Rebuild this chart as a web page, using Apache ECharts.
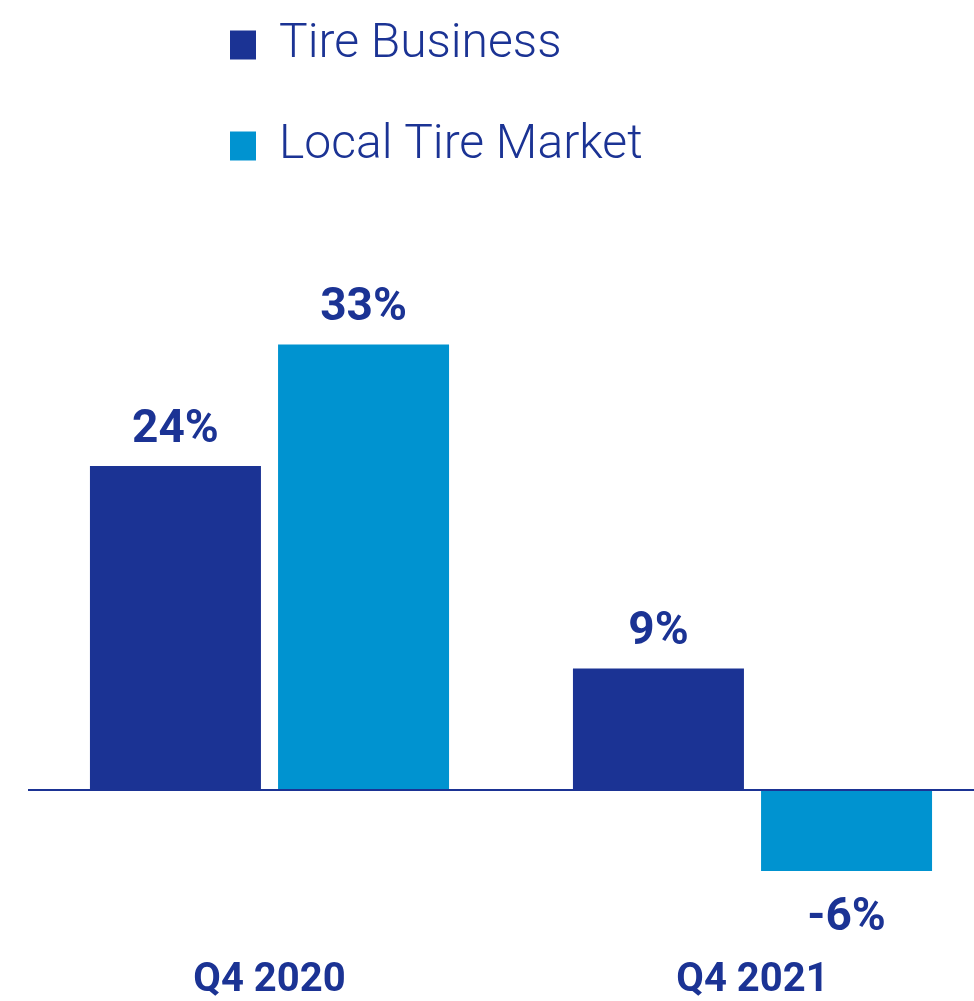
<!DOCTYPE html>
<html>
<head>
<meta charset="utf-8">
<script src="https://cdn.jsdelivr.net/npm/echarts@6/dist/echarts.min.js"></script>
<style>
  html, body { margin: 0; padding: 0; background: #fff; }
  #chart { width: 974px; height: 1001px; }
</style>
</head>
<body>
<div id="chart"></div>
<script>
// Year-over-year change, fourth quarter
const quarters = ['Q4 2020', 'Q4 2021'];
const seriesNames = ['Tire Business', 'Local Tire Market'];
const tireBusiness = [24, 9];
const localTireMarket = [33, -6];

const DARK = '#1b3394';
const LIGHT = '#0093d0';
const FONT = 'Roboto, "Noto Sans", sans-serif';

const valueLabel = {
  show: true,
  position: 'top',
  distance: 13,
  color: DARK,
  fontFamily: FONT,
  fontWeight: 'bold',
  fontSize: 46,
  formatter: p => p.value + '%'
};

function barData(values) {
  return values.map(v => v < 0
    ? { value: v, label: { position: 'bottom', distance: 24 } }
    : v);
}

const chart = echarts.init(document.getElementById('chart'), null, { renderer: 'canvas' });
chart.setOption({
  animation: false,
  backgroundColor: '#ffffff',
  legend: {
    orient: 'vertical',
    left: 225,
    top: 16,
    itemWidth: 26,
    itemHeight: 29,
    itemGap: 53,
    icon: 'rect',
    data: seriesNames,
    textStyle: {
      color: DARK,
      fontFamily: FONT,
      fontWeight: 300,
      fontSize: 48,
      padding: [0, 0, 0, 18]
    }
  },
  grid: { left: 28, right: -20, top: 250, bottom: 49, outerBoundsMode: 'none', containLabel: false },
  xAxis: {
    type: 'category',
    data: quarters,
    axisLine: { show: false, onZero: false },
    axisTick: { show: false },
    axisLabel: {
      margin: 9,
      color: DARK,
      fontFamily: FONT,
      fontWeight: 'bold',
      fontSize: 40
    }
  },
  yAxis: {
    type: 'value',
    min: -12,
    max: 40,
    show: false,
    splitLine: { show: false }
  },
  series: [
    {
      name: seriesNames[0],
      type: 'bar',
      data: barData(tireBusiness),
      barWidth: 171,
      barGap: '10%',
      itemStyle: { color: DARK },
      label: valueLabel,
      // baseline at zero across the whole plot width
      markLine: {
        silent: true,
        symbol: 'none',
        label: { show: false },
        lineStyle: { color: DARK, width: 2, type: 'solid' },
        data: [{ yAxis: 0 }]
      }
    },
    {
      name: seriesNames[1],
      type: 'bar',
      data: barData(localTireMarket),
      barWidth: 171,
      barGap: '10%',
      itemStyle: { color: LIGHT },
      label: valueLabel
    }
  ]
});
</script>
</body>
</html>
